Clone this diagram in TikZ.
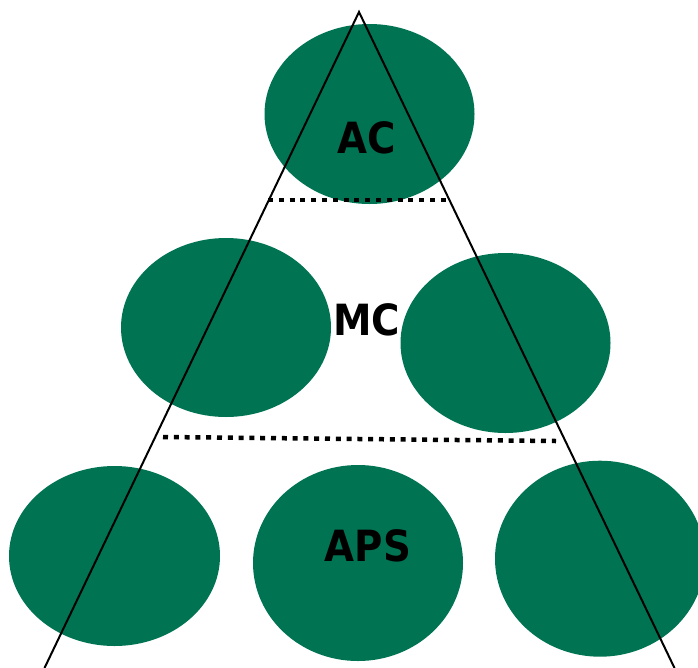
\documentclass[tikz,border=0pt]{standalone}
\usepackage{fontspec}
\setmainfont{DejaVu Sans Condensed}
\definecolor{cgreen}{HTML}{007352}
\begin{document}
\begin{tikzpicture}[x=1pt,y=-1pt,
  lbl/.style={font=\fontsize{43}{47}\selectfont\bfseries,inner sep=0pt,anchor=center},
  tri/.style={line width=2pt,black},
  dotline/.style={line width=4.5pt,dash pattern=on 5pt off 5.8pt,black}]
\useasboundingbox (0,0) rectangle (698,667);
\fill[cgreen] (369.5,114) ellipse [x radius=105, y radius=90];
\fill[cgreen] (226,327.5) ellipse [x radius=105, y radius=89.5];
\fill[cgreen] (505.5,343) ellipse [x radius=105, y radius=90];
\fill[cgreen] (114.5,556) ellipse [x radius=105.5, y radius=90];
\fill[cgreen] (358,563) ellipse [x radius=105, y radius=98];
\fill[cgreen] (600,558.7) ellipse [x radius=105, y radius=98];
\coordinate (apex) at (359,12);
\coordinate (bl) at (44.5,668);
\coordinate (br) at (674.5,668);
\draw[tri] (bl) -- (apex) -- (br);
\coordinate (d1a) at (268,200);
\coordinate (d1b) at (446,200);
\coordinate (d2a) at (163,437);
\coordinate (d2b) at (556,441);
\draw[dotline] (d1a) -- (d1b);
\draw[dotline] (d2a) -- (d2b);
\node[lbl] (ac) at (367,138) {AC};
\node[lbl] (mc) at (366.5,320) {MC};
\node[lbl] (aps) at (368,546) {APS};
\end{tikzpicture}
\end{document}
